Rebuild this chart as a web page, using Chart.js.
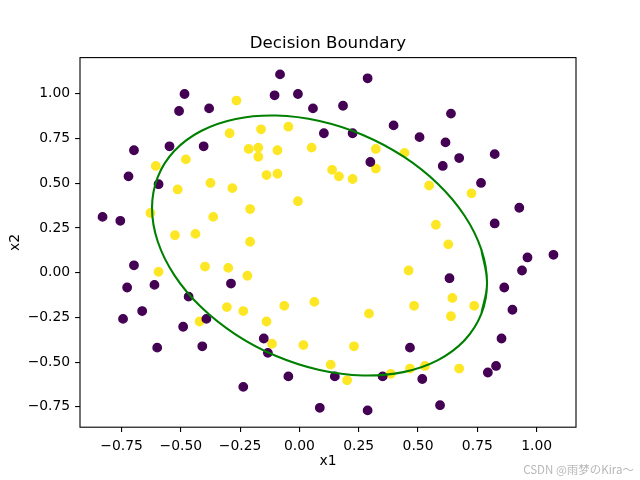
<!DOCTYPE html>
<html><head><meta charset="utf-8">
<script src="https://cdn.jsdelivr.net/npm/chart.js@4"></script>
<style>html,body{margin:0;padding:0;background:#fff}#wrap{width:640px;height:480px}</style>
</head><body><div id="wrap"><canvas id="c" width="640" height="480"></canvas></div>
<script>
// Data (class 1 = accepted, class 0 = rejected)
const x1 = [0.051267,-0.092742,-0.21371,-0.375,-0.51325,-0.52477,-0.39804,-0.30588,0.016705,0.13191,0.38537,0.52938,0.63882,0.73675,0.54666,0.322,0.16647,-0.046659,-0.17339,-0.47869,-0.60541,-0.62846,-0.59389,-0.42108,-0.11578,0.20104,0.46601,0.67339,-0.13882,-0.29435,-0.26555,-0.16187,-0.17339,-0.28283,-0.36348,-0.30012,-0.23675,-0.06394,0.062788,0.22984,0.2932,0.48329,0.64459,0.46025,0.6273,0.57546,0.72523,0.22408,0.44297,0.322,0.13767,-0.0063364,-0.092742,-0.20795,-0.20795,-0.43836,-0.21947,-0.13882,
0.18376,0.22408,0.29896,0.50634,0.61578,0.60426,0.76555,0.92684,0.82316,0.96141,0.93836,0.86348,0.89804,0.85196,0.82892,0.79435,0.59274,0.51786,0.46601,0.35081,0.28744,0.085829,0.14919,-0.13306,-0.40956,-0.39228,-0.74366,-0.69758,-0.75518,-0.69758,-0.4038,-0.38076,-0.50749,-0.54781,0.10311,0.057028,-0.10484,-0.081797,0.28744,0.39689,0.63882,0.82316,0.67339,1.0709,-0.046659,-0.23675,-0.15035,-0.49021,-0.46717,-0.28859,-0.61118,-0.66302,-0.59965,-0.72638,-0.83007,-0.72062,-0.59389,-0.48445,-0.0063364,0.63265];
const x2 = [0.69956,0.68494,0.69225,0.50219,0.46564,0.2098,0.034357,-0.19225,-0.40424,-0.51389,-0.56506,-0.5212,-0.24342,-0.18494,0.48757,0.5826,0.53874,0.81652,0.69956,0.63377,0.59722,0.33406,0.005117,-0.27266,-0.39693,-0.60161,-0.53582,-0.53582,0.54605,0.77997,0.96272,0.8019,0.64839,0.47295,0.31213,0.027047,-0.21418,-0.18494,-0.16301,-0.41155,-0.2288,-0.18494,-0.14108,0.012427,0.15863,0.26827,0.44371,0.52412,0.67032,0.69225,0.57529,0.39985,0.55336,0.35599,0.17325,0.21711,-0.016813,-0.27266,
0.93348,0.77997,0.61915,0.75804,0.7288,0.59722,0.50219,0.3633,0.27558,0.085526,0.012427,-0.082602,-0.20687,-0.36769,-0.5212,-0.55775,-0.7405,-0.5943,-0.41886,-0.57968,-0.76974,-0.75512,-0.57968,-0.4481,-0.41155,-0.25804,-0.25804,0.041667,0.2902,0.68494,0.70687,0.91886,0.90424,0.70687,0.77997,0.91886,0.99196,1.1089,1.087,0.82383,0.88962,0.66301,0.64108,0.10015,-0.57968,-0.63816,-0.36769,-0.3019,-0.13377,-0.060673,-0.067982,-0.21418,-0.41886,-0.082602,0.31213,0.53874,0.49488,0.99927,0.99927,-0.030612];
const labels = [1,1,1,1,1,1,1,1,1,1,1,1,1,1,1,1,1,1,1,1,1,1,1,1,1,1,1,1,1,1,1,1,1,1,1,1,1,1,1,1,1,1,1,1,1,1,1,1,1,1,1,1,1,1,1,1,1,1,
0,0,0,0,0,0,0,0,0,0,0,0,0,0,0,0,0,0,0,0,0,0,0,0,0,0,0,0,0,0,0,0,0,0,0,0,0,0,0,0,0,0,0,0,0,0,0,0,0,0,0,0,0,0,0,0,0,0,0,0];
// Decision boundary points (closed curve; ends overlap by one point on each side)
const boundaryX = [0.7668,0.7909,0.7668,0.6963,0.5841,0.4378,0.2675,0.0847,-0.0981,-0.2684,-0.4147,-0.5269,-0.5974,-0.6215,-0.5974,-0.5269,-0.4147,-0.2684,-0.0981,0.0847,0.2675,0.4378,0.5841,0.6963,0.7668,0.7909,0.7668];
const boundaryY = [0.1297,-0.0576,-0.2307,-0.3776,-0.4884,-0.5556,-0.5746,-0.5440,-0.4660,-0.3458,-0.1918,-0.0144,0.1745,0.3618,0.5349,0.6818,0.7926,0.8598,0.8788,0.8482,0.7702,0.6500,0.4960,0.3186,0.1297,-0.0576,-0.2307];
const xTicks = [-0.75,-0.5,-0.25,0,0.25,0.5,0.75,1.0];
const yTicks = [-0.75,-0.5,-0.25,0,0.25,0.5,0.75,1.0];
const titleText = 'Decision Boundary';
const xLabel = 'x1';
const yLabel = 'x2';
const watermark = 'CSDN @雨梦のKira〜';

const PURPLE = '#440154', YELLOW = '#fde725', GREEN = '#008000';
function pts(cls){ const r=[]; for(let i=0;i<x1.length;i++) if(labels[i]===cls) r.push({x:x1[i],y:x2[i]}); return r; }
const bpts = boundaryX.map((v,i)=>({x:v,y:boundaryY[i]}));
function lim(a){ const mn=Math.min(...a), mx=Math.max(...a), m=(mx-mn)*0.05; return [mn-m,mx+m]; }
const xl = lim(x1), yl = lim(x2);
const fmt = v => (Math.abs(v)<1e-9? '0.00' : v.toFixed(2).replace('-', '\u2212'));

Chart.defaults.font.family = 'DejaVu Sans';
Chart.defaults.color = '#000';

const framePlugin = {
  id:'frame',
  afterDraw(chart){
    const {ctx, chartArea:a} = chart;
    ctx.save();
    ctx.strokeStyle = '#000'; ctx.lineWidth = 1.1;
    ctx.strokeRect(a.left, a.top, a.right-a.left, a.bottom-a.top);
    ctx.fillStyle = '#000';
    ctx.font = '16.67px "DejaVu Sans"';
    ctx.textAlign = 'center'; ctx.textBaseline = 'middle';
    ctx.fillText(titleText, (a.left+a.right)/2, 43.5);
    ctx.fillStyle = '#b8b8b8';
    ctx.font = '11.5px "Noto Sans CJK SC"';
    ctx.textAlign = 'right'; ctx.textBaseline = 'alphabetic';
    ctx.fillText(watermark, 634, 474);
    ctx.restore();
  }
};

const tickFont = {size:13.9};
new Chart(document.getElementById('c'), {
  type:'scatter',
  data:{datasets:[
    {label:'boundary', data:bpts, showLine:true, borderColor:GREEN, borderWidth:2.1, pointRadius:0, tension:0.4, fill:false, order:0},
    {label:'0', data:pts(0), backgroundColor:PURPLE, borderColor:PURPLE, borderWidth:1.4, pointRadius:4.2, order:1},
    {label:'1', data:pts(1), backgroundColor:YELLOW, borderColor:YELLOW, borderWidth:1.4, pointRadius:4.2, order:2}
  ]},
  options:{
    responsive:false, animation:false, devicePixelRatio:1,
    layout:{padding:{left:0,right:64,top:57.6,bottom:0}},
    plugins:{ legend:{display:false}, tooltip:{enabled:false}, title:{display:false} },
    scales:{
      x:{type:'linear', min:xl[0], max:xl[1],
        afterBuildTicks:s=>{ s.ticks = xTicks.map(v=>({value:v})); },
        afterFit:s=>{ s.height = 52.8; },
        ticks:{callback:v=>fmt(v), font:tickFont, padding:6, maxRotation:0, autoSkip:false},
        grid:{drawOnChartArea:false, drawTicks:true, tickLength:4.9, color:'#000', lineWidth:1.1},
        border:{display:false},
        title:{display:true, text:xLabel, font:{size:13.9}, padding:{top:0,bottom:10}}
      },
      y:{type:'linear', min:yl[0], max:yl[1],
        afterBuildTicks:s=>{ s.ticks = yTicks.map(v=>({value:v})); },
        afterFit:s=>{ s.width = 80; },
        ticks:{callback:v=>fmt(v), font:tickFont, padding:4.9, autoSkip:false},
        grid:{drawOnChartArea:false, drawTicks:true, tickLength:4.9, color:'#000', lineWidth:1.1},
        border:{display:false},
        title:{display:true, text:yLabel, font:{size:13.9}, padding:{top:6.7,bottom:0}}
      }
    }
  },
  plugins:[framePlugin]
});
</script></body></html>
